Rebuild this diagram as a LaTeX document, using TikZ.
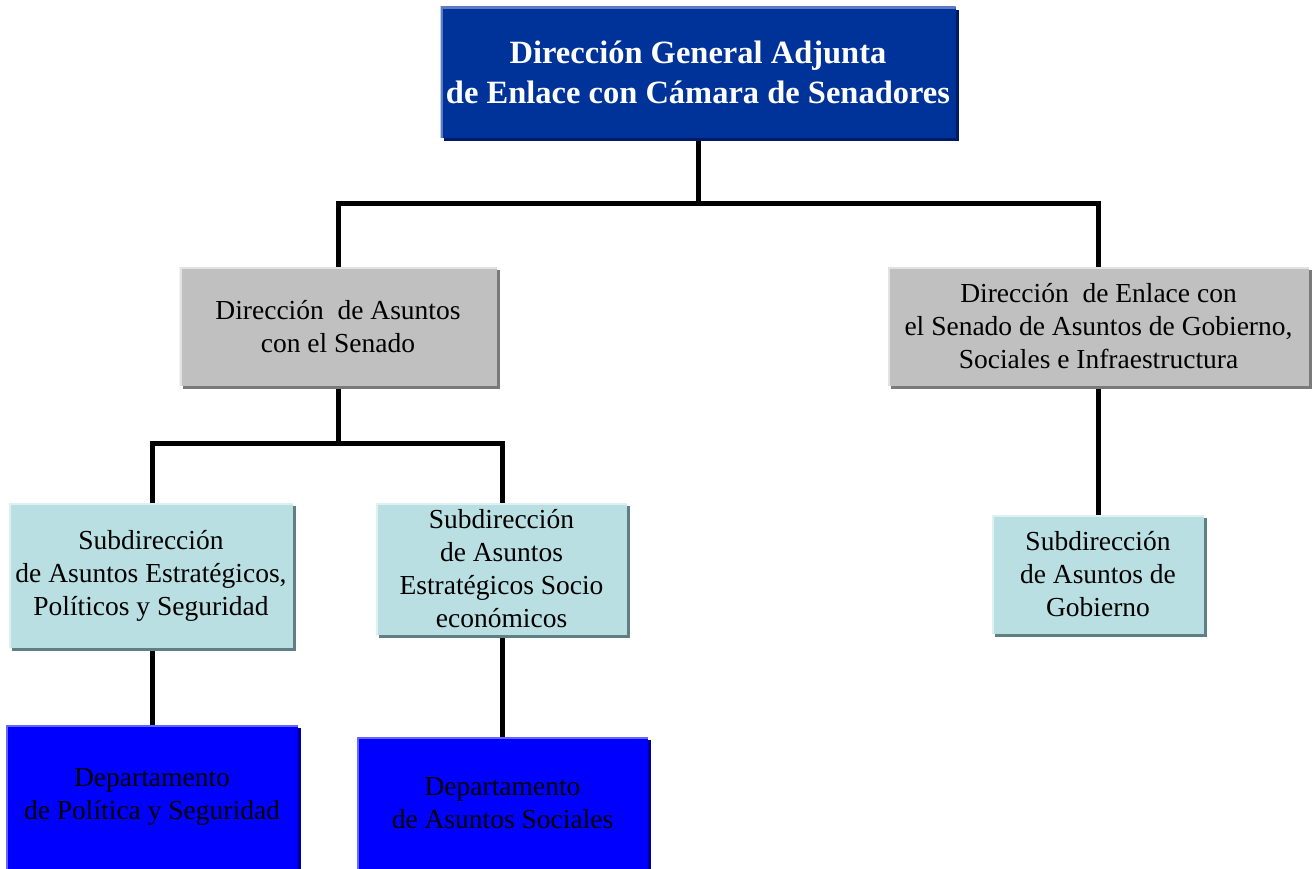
\documentclass[tikz,border=0pt]{standalone}
\usepackage{fontspec}
\setmainfont{Liberation Serif}
\definecolor{topfill}{HTML}{003399}
\definecolor{toplight}{HTML}{5B7CC4}
\definecolor{topdark}{HTML}{001A66}
\definecolor{greyfill}{HTML}{C0C0C0}
\definecolor{greylight}{HTML}{E2E2E2}
\definecolor{greydark}{HTML}{7A7A7A}
\definecolor{cyanfill}{HTML}{B9DFE3}
\definecolor{cyanlight}{HTML}{DDF0F2}
\definecolor{cyandark}{HTML}{5F7F82}
\definecolor{bluefill}{HTML}{0000FF}
\definecolor{bluelight}{HTML}{6666FF}
\definecolor{bluedark}{HTML}{000099}
\pgfdeclarelayer{background}
\pgfsetlayers{background,main}
\tikzset{
  x=1pt, y=-1pt,
  bevel/.style n args={3}{
    fill=#1, inner sep=0pt, align=center,
    preaction={fill=#3, transform canvas={shift={(3pt,-3pt)}}},
    path picture={\draw[#2, line width=4pt]
      (path picture bounding box.south west) -- (path picture bounding box.north west)
      -- (path picture bounding box.north east);}
  },
  topbox/.style={bevel={topfill}{toplight}{topdark}, text=white,
    font=\fontsize{32.5}{40}\selectfont\bfseries},
  greybox/.style={bevel={greyfill}{greylight}{greydark},
    font=\fontsize{27.5}{33}\selectfont},
  cyanbox/.style={bevel={cyanfill}{cyanlight}{cyandark},
    font=\fontsize{27.5}{33}\selectfont},
  bluebox/.style={bevel={bluefill}{bluelight}{bluedark},
    font=\fontsize{27.5}{33}\selectfont},
  conn/.style={line width=5pt, line cap=rect}
}
\begin{document}
\begin{tikzpicture}
\useasboundingbox (0,0) rectangle (1316,869);
\node[topbox, minimum width=515, minimum height=131] (top) at (698,72.5)
  {Dirección General Adjunta\\de Enlace con Cámara de Senadores};
\node[greybox, minimum width=317, minimum height=119] (g1) at (338,326.5)
  {Dirección\ \ de Asuntos\\con el Senado};
\node[greybox, minimum width=421, minimum height=119] (g2) at (1098.5,326.5)
  {Dirección\ \ de Enlace con\\el Senado de Asuntos de Gobierno,\\Sociales e Infraestructura};
\node[cyanbox, minimum width=284, minimum height=145] (c1) at (151,575.5)
  {Subdirección\\de Asuntos Estratégicos,\\Políticos y Seguridad};
\node[cyanbox, minimum width=251, minimum height=132] (c2) at (501.5,569)
  {Subdirección\\de Asuntos\\Estratégicos Socio\\económicos};
\node[cyanbox, minimum width=212, minimum height=119] (c3) at (1098,574.5)
  {Subdirección\\de Asuntos de\\Gobierno};
\node[bluebox, minimum width=292, minimum height=144] (b1) at (152,797)
  {Departamento\\de Política y Seguridad};
\node[bluebox, minimum width=291, minimum height=132] (b2) at (502.5,803)
  {Departamento\\de Asuntos Sociales};

\coordinate (j1) at (698,203);
\coordinate (j1l) at (338,203);
\coordinate (j1r) at (1098,203);
\coordinate (j2) at (338,443);
\coordinate (j2l) at (152,443);
\coordinate (j2r) at (502,443);

\begin{pgfonlayer}{background}
\draw[conn] (top.south) -- (j1);
\draw[conn] (j1l) -- (j1r);
\draw[conn] (j1l) -- (g1.north);
\draw[conn] (j1r) -- (j1r |- g2.north);
\draw[conn] (g1.south) -- (j2);
\draw[conn] (j2l) -- (j2r);
\draw[conn] (j2l) -- (j2l |- c1.north);
\draw[conn] (j2r) -- (j2r |- c2.north);
\draw[conn] (g2.south -| c3.north) -- (c3.north);
\draw[conn] (b1.north |- c1.south) -- (b1.north);
\draw[conn] (b2.north |- c2.south) -- (b2.north);
\end{pgfonlayer}
\end{tikzpicture}
\end{document}
